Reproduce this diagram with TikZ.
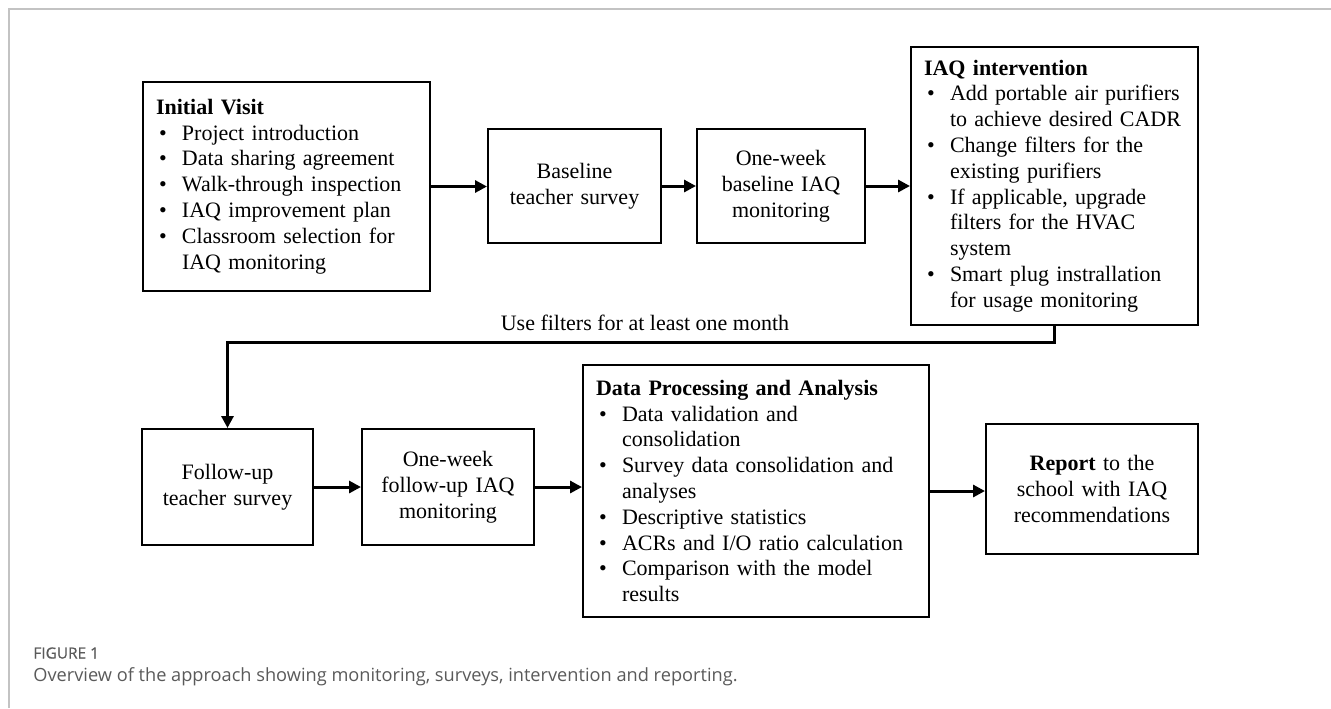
\documentclass[tikz,border=0pt]{standalone}
\usepackage{fontspec}
\setmainfont{Liberation Serif}
\newfontfamily\capfont{Open Sans}
\newfontfamily\capsemi[FakeBold=0.6]{Open Sans}
\usetikzlibrary{arrows.meta,calc}
\definecolor{framegray}{RGB}{195,195,195}
\definecolor{capgray}{RGB}{90,90,90}
\newcommand\bul{\makebox[13pt][l]{\hspace{1.5pt}\textbullet}}
\newcommand\ind{\hspace*{13pt}}
\begin{document}
\begin{tikzpicture}[x=0.5pt,y=-0.5pt,
  boxfont/.style={font=\fontsize{11}{12.9}\selectfont},
  box/.style={draw, line width=1pt, boxfont, inner xsep=6.5pt, inner ysep=0pt},
  listbox/.style={box, align=left, inner xsep=4.5pt,
    execute at begin node={\leftskip=2pt\relax}},
  plainbox/.style={box, align=center},
  arr/.style={line width=1.5pt, -{Triangle[length=6pt,width=6pt]}},
  frameline/.style={draw=framegray, line width=0.75pt},
  captext/.style={inner sep=0pt, anchor=west, text=capgray}]
\useasboundingbox (0,0) rectangle (1331,708);
\draw[frameline] (9,708) -- (9,9) -- (1331,9);

% top row
\node[listbox, text width=134.5pt, minimum height=104.5pt] (iv) at (286.5,186.5)
 {\textbf{Initial Visit}\\
  \bul Project introduction\\
  \bul Data sharing agreement\\
  \bul Walk-through inspection\\
  \bul IAQ improvement plan\\
  \bul Classroom selection for\\
  \ind IAQ monitoring};
\node[plainbox, text width=73.5pt, minimum height=57pt] (bs) at (574.5,186)
 {Baseline\\teacher survey};
\node[plainbox, text width=71pt, minimum height=57pt] (bm) at (781,186)
 {One-week\\baseline IAQ\\monitoring};
\node[listbox, text width=134.5pt, minimum height=139pt] (iaq) at (1054.5,186)
 {\textbf{IAQ intervention}\\
  \bul Add portable air purifiers\\
  \ind to achieve desired CADR\\
  \bul Change filters for the\\
  \ind existing purifiers\\
  \bul If applicable, upgrade\\
  \ind filters for the HVAC\\
  \ind system\\
  \bul Smart plug instrallation\\
  \ind for usage monitoring};

% bottom row
\node[plainbox, text width=72.5pt, minimum height=58pt] (fu) at (227.5,487)
 {Follow-up\\teacher survey};
\node[plainbox, text width=73pt, minimum height=58pt] (fm) at (448,487)
 {One-week\\follow-up IAQ\\monitoring};
\node[listbox, text width=164pt, minimum height=126pt] (dp) at (756,491)
 {\textbf{Data Processing and Analysis}\\
  \bul Data validation and\\
  \ind consolidation\\
  \bul Survey data consolidation and\\
  \ind analyses\\
  \bul Descriptive statistics\\
  \bul ACRs and I/O ratio calculation\\
  \bul Comparison with the model\\
  \ind results};
\node[plainbox, text width=93pt, minimum height=65pt] (rp) at (1092,489)
 {\textbf{Report} to the\\school with IAQ\\recommendations};

% connectors
\draw[arr] (iv.east) -- (iv.east -| bs.west);
\draw[arr] (bs.east) -- (bs.east -| bm.west);
\draw[arr] (bm.east) -- (bm.east -| iaq.west);
\coordinate (turn) at (227.5,342);
\draw[arr] (iaq.south) |- (turn) -- (fu.north);
\node[boxfont, inner sep=0pt, anchor=base] (uselabel) at (645,330) {Use filters for at least one month};
\draw[arr] (fu.east) -- (fu.east -| fm.west);
\draw[arr] (fm.east) -- (fm.east -| dp.west);
\draw[arr] (dp.east) -- (dp.east -| rp.west);

% caption
\node[captext, font=\capsemi\fontsize{7.7}{9}\selectfont] (figlabel) at (33,653) {FIGURE 1};
\node[captext, font=\capfont\fontsize{9.1}{11}\selectfont] (caption) at (33,677)
 {Overview of the approach showing monitoring, surveys, intervention and reporting.};
\end{tikzpicture}
\end{document}
